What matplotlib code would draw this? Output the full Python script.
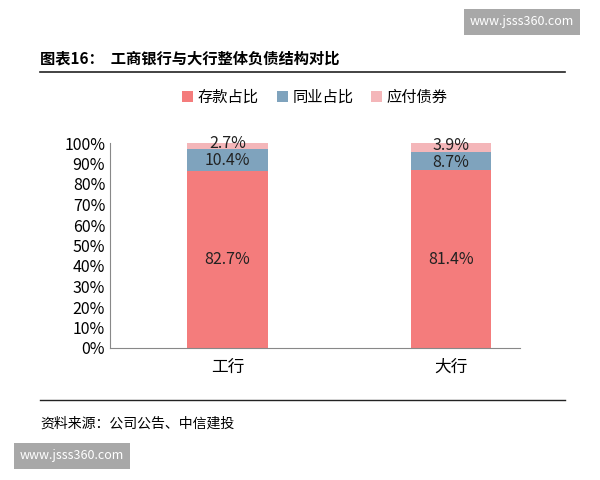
import numpy as np
import matplotlib.pyplot as plt
from matplotlib.ticker import PercentFormatter

plt.rcParams['font.family'] = ['Noto Sans CJK SC', 'DejaVu Sans']

banks = ["工行", "大行"]
series_names = ["存款占比", "同业占比", "应付债券"]
deposits = [82.7, 81.4]
interbank = [10.4, 8.7]
bonds = [2.7, 3.9]
colors = ["#f47c7c", "#7fa3bd", "#f4b6b9"]

raw = np.array([deposits, interbank, bonds])
shares = raw / raw.sum(axis=0) * 100

fig = plt.figure(figsize=(6, 4.8), dpi=100)
ax = fig.add_axes([110 / 600, 132 / 480, 410 / 600, 205 / 480])

x = np.arange(len(banks))
bottom = np.zeros(len(banks))
for i, name in enumerate(series_names):
    ax.bar(x, shares[i], 0.36, bottom=bottom, color=colors[i], label=name)
    for j in range(len(banks)):
        if i == 0:
            ypos = bottom[j] + shares[i][j] / 2
        elif i == 1:
            ypos = bottom[j] + shares[i][j] / 2 - 0.5
        else:
            ypos = bottom[j] + shares[i][j] / 2 + 1
        ax.text(x[j], ypos, f"{raw[i][j]:.1f}%", ha="center", va="center",
                fontsize=11.5, color="#222222")
    bottom += shares[i]

ax.set_xlim(-0.525, 1.31)
ax.set_ylim(0, 100)
ax.set_yticks(np.arange(0, 101, 10))
ax.yaxis.set_major_formatter(PercentFormatter(decimals=0))
ax.set_xticks(x)
ax.set_xticklabels(banks, fontsize=12)
ax.tick_params(axis="y", labelsize=11.5, length=0)
ax.tick_params(axis="x", length=0, pad=8)
for s in ["top", "right"]:
    ax.spines[s].set_visible(False)
ax.spines["left"].set_color("#888888")
ax.spines["bottom"].set_color("#888888")

ax.legend(loc="upper center", bbox_to_anchor=(0.5, 1.33), ncol=3, frameon=False,
          fontsize=11, handlelength=0.7, handleheight=0.7, columnspacing=1.2,
          handletextpad=0.3)

fig.text(40 / 600, 1 - 58 / 480, "图表16：  工商银行与大行整体负债结构对比",
         fontsize=11, fontweight="bold", va="center")
fig.add_artist(plt.Line2D([40 / 600, 565 / 600], [1 - 72 / 480] * 2, color="#222222", lw=1.2))
fig.add_artist(plt.Line2D([40 / 600, 565 / 600], [1 - 400 / 480] * 2, color="#222222", lw=1))
fig.text(40 / 600, 1 - 424 / 480, "资料来源：公司公告、中信建投", fontsize=10,
         style="italic", va="center")

fig.text(0.87, 1 - 22 / 480, "www.jsss360.com", fontsize=9, color="white", ha="center",
         va="center", bbox=dict(boxstyle="square,pad=0.5", fc="#a8a8a8", ec="none"))
fig.text(0.12, 1 - 456 / 480, "www.jsss360.com", fontsize=9, color="white", ha="center",
         va="center", bbox=dict(boxstyle="square,pad=0.5", fc="#a8a8a8", ec="none"))

fig.savefig("out.png")
